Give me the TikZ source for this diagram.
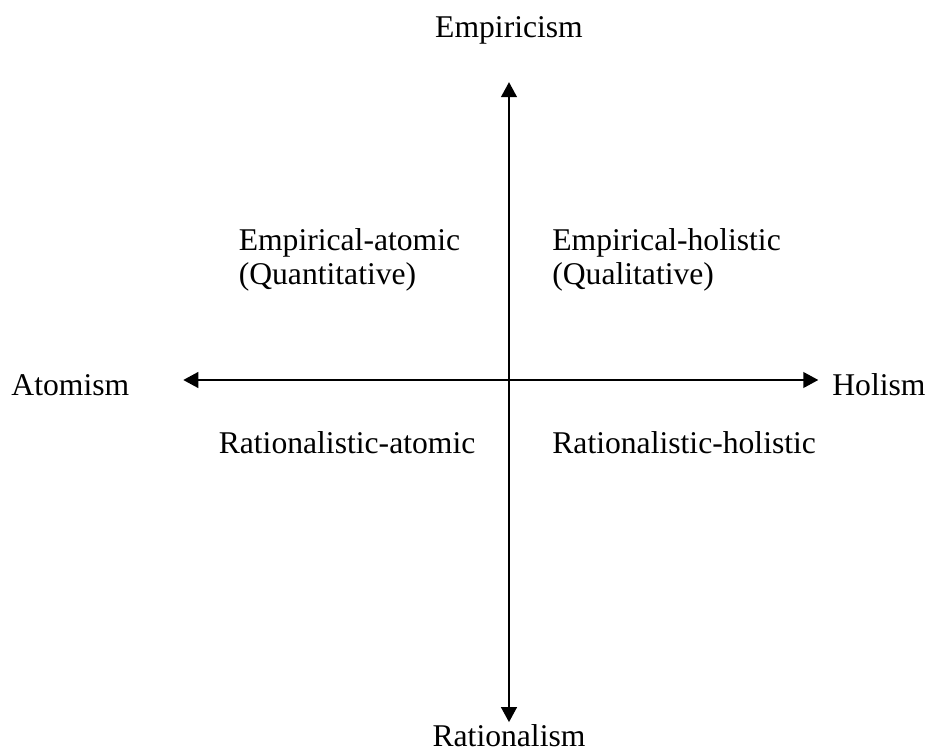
\documentclass[tikz,border=0pt]{standalone}
\usepackage{fontspec}
\setmainfont{Liberation Serif}
\usetikzlibrary{arrows.meta}
\begin{document}
\begin{tikzpicture}[
			>={Triangle[length=0.21cm,width=0.22cm]},
			axis/.style={<->, line width=0.8pt},
			quad/.style={anchor=west, align=left, inner sep=0pt, font=\fontsize{12.6}{13.6}\selectfont},
			pole/.style={inner sep=0pt, font=\fontsize{12.6}{14}\selectfont}
		]
			\useasboundingbox (-7.126,-5.208) rectangle (5.922,5.32);
			
			% axis end points
			\coordinate (top) at (0, 4.17);
			\coordinate (bottom) at (0, -4.79);
			\coordinate (left) at (-4.56, 0);
			\coordinate (right) at (4.33, 0);
			\draw[axis] (bottom) -- (top);
			\draw[axis] (left) -- (right);
			
			% poles
			\node[pole] (empiricism) at (0, 4.9) {Empiricism};
			\node[pole] (rationalism) at (0, -4.98) {Rationalism};
			\node[pole, anchor=east] (atomism) at (-5.31, -0.07) {Atomism};
			\node[pole, anchor=west] (holism) at (4.52, -0.07) {Holism};
			
			% quadrants
			\node[quad] (empatomic) at (-3.79, 1.68) {Empirical-atomic\\(Quantitative)};
			\node[quad] (empholistic) at (0.60, 1.68) {Empirical-holistic\\(Qualitative)};
			\node[quad] (ratatomic) at (-4.07, -0.88) {Rationalistic-atomic};
			\node[quad] (ratholistic) at (0.60, -0.88) {Rationalistic-holistic};
		\end{tikzpicture}
\end{document}
